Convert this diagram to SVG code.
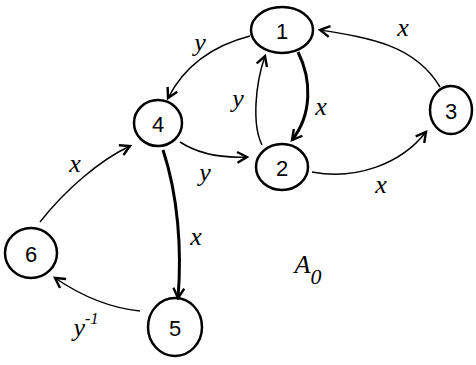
<svg xmlns="http://www.w3.org/2000/svg" width="476" height="365" viewBox="0 0 476 365">
<style>
.n{fill:none;stroke:#000;stroke-width:2.5}
.t{font-family:"Liberation Sans",Arial,sans-serif;font-size:22px;text-anchor:middle;dominant-baseline:central;fill:#000}
.e{fill:none;stroke:#000;stroke-width:1.5;marker-end:url(#a)}
.b{stroke-width:3}
.l{font-family:"Liberation Serif",serif;font-style:italic;font-size:26px;text-anchor:middle;dominant-baseline:central;fill:#000}
</style>
<defs>
<marker id="a" viewBox="0 0 12 12" refX="10" refY="6" markerWidth="13" markerHeight="13" markerUnits="userSpaceOnUse" orient="auto">
<path d="M1,1 L10,6 L1,11" fill="none" stroke="#000" stroke-width="2.2"/>
</marker>
</defs>
<rect width="476" height="365" fill="#fff"/>
<g id="edges">
<path class="e" d="M250,36 C215,45 185,65 168,98"/>
<path class="e" d="M180,142 C200,155 225,158 247,157"/>
<path class="e" d="M262,145 C252,125 255,85 265,56"/>
<path class="e b" d="M298,52 C312,80 312,115 292,140"/>
<path class="e" d="M312,172 C355,180 400,165 426,132"/>
<path class="e" d="M440,87 C415,45 370,38 320,30"/>
<path class="e" d="M40,222 C65,190 100,160 130,146"/>
<path class="e b" d="M163,150 C178,195 182,250 178,298"/>
<path class="e" d="M140,311 C110,308 80,295 55,278"/>
</g>
<g id="n1"><ellipse class="n" cx="282" cy="30" rx="31" ry="23"/><text class="t" x="282" y="31">1</text></g>
<g id="n2"><ellipse class="n" cx="282" cy="167" rx="26" ry="23"/><text class="t" x="282" y="168">2</text></g>
<g id="n3"><ellipse class="n" cx="451" cy="110" rx="21" ry="24"/><text class="t" x="451" y="111">3</text></g>
<g id="n4"><ellipse class="n" cx="158" cy="123" rx="24" ry="23"/><text class="t" x="158" y="124">4</text></g>
<g id="n5"><ellipse class="n" cx="175" cy="327" rx="27" ry="29"/><text class="t" x="175" y="328">5</text></g>
<g id="n6"><ellipse class="n" cx="31" cy="253" rx="26" ry="25"/><text class="t" x="31" y="254">6</text></g>
<g id="labels">
<text class="l" x="200" y="42">y</text>
<text class="l" x="205" y="172">y</text>
<text class="l" x="238" y="98">y</text>
<text class="l" x="321" y="106">x</text>
<text class="l" x="381" y="184">x</text>
<text class="l" x="403" y="27">x</text>
<text class="l" x="75" y="163">x</text>
<text class="l" x="196" y="236">x</text>
<text class="l" x="86" y="327">y<tspan font-size="16" dy="-9">-1</tspan></text>
<text class="l" x="308" y="264" font-size="40">A<tspan font-size="22" dy="12">0</tspan></text>
</g>
</svg>
